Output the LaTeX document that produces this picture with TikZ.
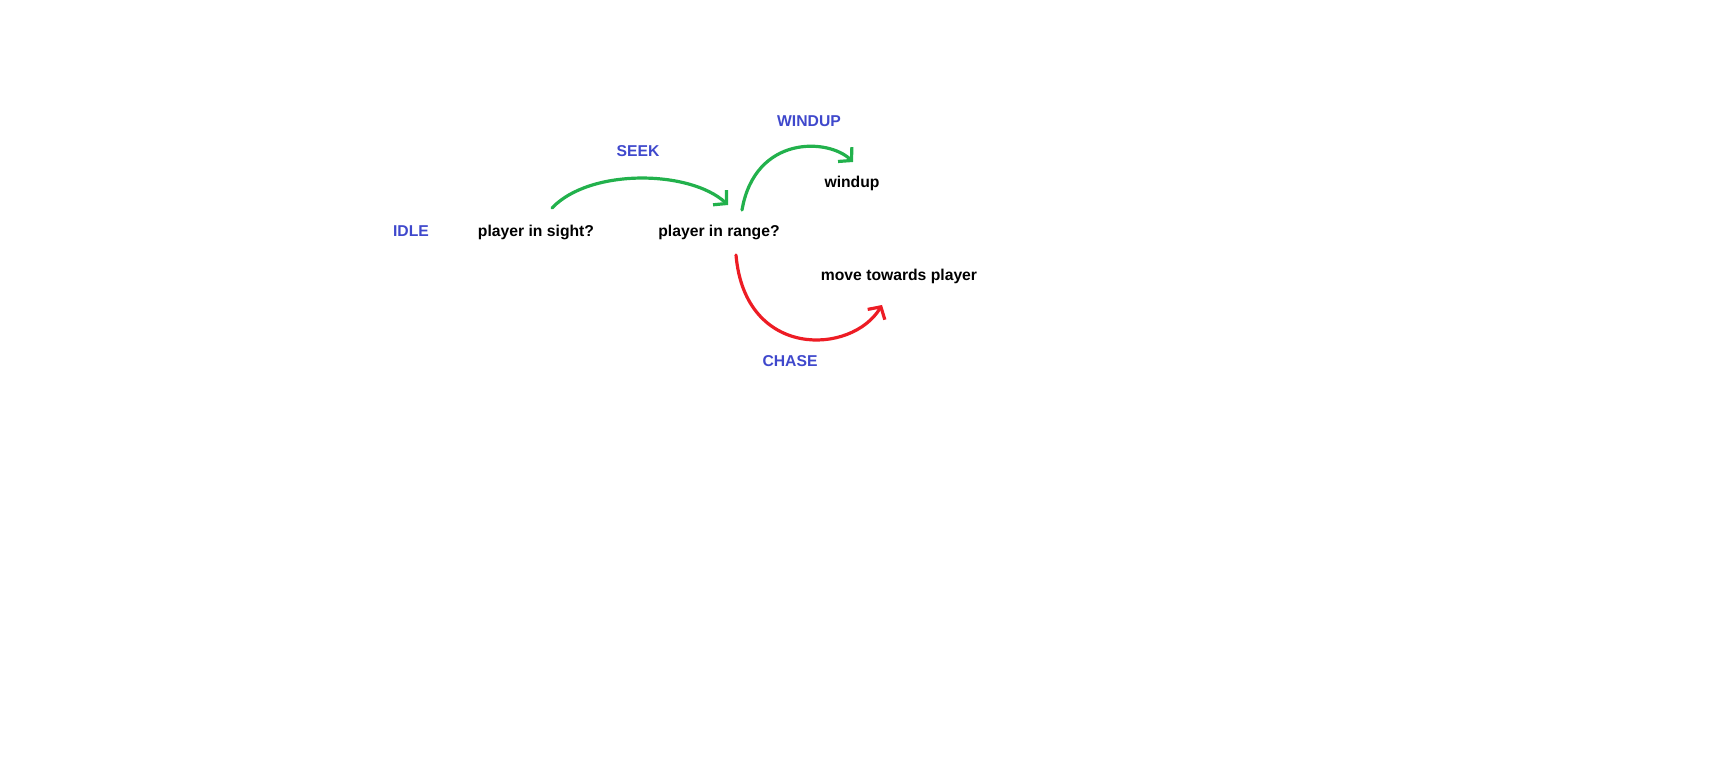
\documentclass[tikz,border=0pt]{standalone}
\usepackage{fontspec}
\setmainfont{Liberation Sans}
\usetikzlibrary{arrows.meta,calc}
\definecolor{paintblue}{RGB}{63,72,204}
\definecolor{paintgreen}{RGB}{34,177,76}
\definecolor{paintred}{RGB}{237,28,36}
\begin{document}
\begin{tikzpicture}[x=0.5pt,y=-0.5pt,
  every node/.style={inner sep=0pt,anchor=base,font=\fontsize{7.85}{9}\selectfont\bfseries},
  statelabel/.style={text=paintblue},
  condlabel/.style={text=black},
  paintline/.style={line width=1.6pt,line cap=round,line join=round,-{Straight Barb[length=4.5pt,width=10pt]}}]
  \useasboundingbox (0,0) rectangle (1729,780);
  \node[statelabel] (idle) at (411,237) {IDLE};
  \node[condlabel] (sight) at (536,237) {player in sight?};
  \node[condlabel] (range) at (719,237) {player in range?};
  \node[statelabel] (seek) at (638,157) {SEEK};
  \node[statelabel] (windupstate) at (809,127) {WINDUP};
  \node[condlabel] (windup) at (852,188) {windup};
  \node[condlabel] (move) at (899,281) {move towards player};
  \node[statelabel] (chase) at (790,367) {CHASE};
  \draw[paintline,paintgreen] ([shift={(16,-29)}]sight.base) .. controls +(38,-40) and +(-38,-35) .. ([shift={(9,-32)}]range.base);
  \draw[paintline,paintgreen] ([shift={(23,-27)}]range.base) .. controls +(13,-75) and +(-25,-24) .. ([shift={(1,-26)}]windup.base);
  \draw[paintline,paintred] ([shift={(17,18)}]range.base) .. controls +(9,105) and +(-30,50) .. ([shift={(-17,24)}]move.base);
\end{tikzpicture}
\end{document}
